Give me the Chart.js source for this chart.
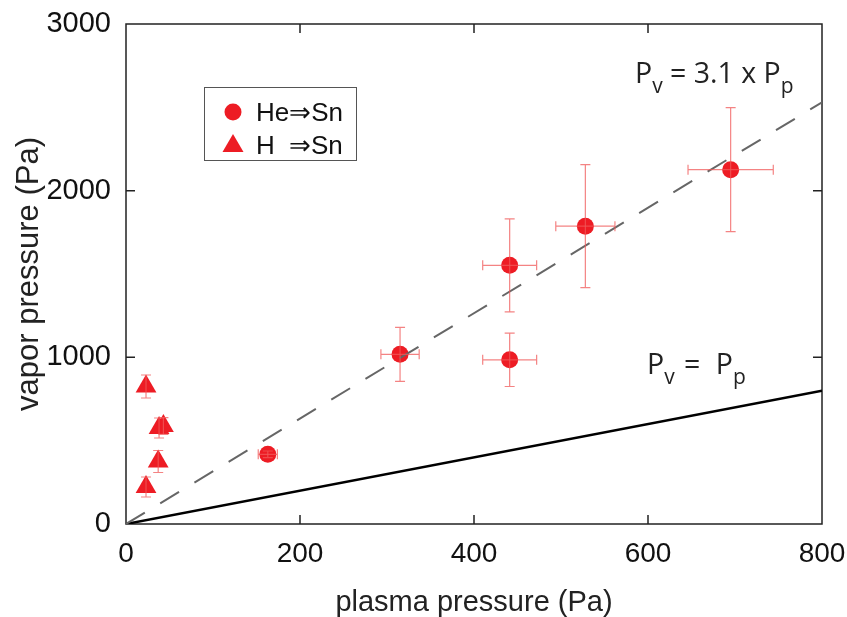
<!DOCTYPE html>
<html>
<head>
<meta charset="utf-8">
<script src="https://cdn.jsdelivr.net/npm/chart.js@4.4.0/dist/chart.umd.min.js"></script>
<style>
html, body { margin: 0; padding: 0; background: #fff; }
#wrap { width: 847px; height: 617px; }
</style>
</head>
<body>
<div id="wrap"><canvas id="c"></canvas></div>
<script>
// He => Sn (circles)
const heX = [163, 315, 441, 441, 528, 695];
const heY = [418, 1018, 985, 1552, 1787, 2126];
const heXErr = [11, 22, 31, 31, 34, 49];
const heYErr = [20, 162, 160, 279, 369, 372];

// H => Sn (triangles)
const hX = [23, 37, 38, 43, 23];
const hY = [825, 375, 576, 588, 222];
const hXErr = [0, 0, 0, 0, 0];
const hYErr = [69, 66, 60, 50, 60];

// reference lines
const lineX = [0, 800];
const fitY = [0, 2530];   // Pv = 3.1 x Pp (as drawn)
const unityY = [0, 800];  // Pv = Pp

const xTicks = [0, 200, 400, 600, 800];
const yTicks = [0, 1000, 2000, 3000];

const red = '#ED1C24';
const errColor = 'rgba(240, 90, 90, 0.75)';
const sansFont = "'Liberation Sans', Arial, sans-serif";
const annFont = "'Open Sans', 'Noto Sans', sans-serif";

const toPts = (xs, ys) => xs.map((x, i) => ({ x: x, y: ys[i] }));

const errorBars = {
    id: 'errorBars',
    afterDatasetsDraw(chart) {
        const { ctx, scales: { x, y } } = chart;
        const sets = [[heX, heY, heXErr, heYErr], [hX, hY, hXErr, hYErr]];
        ctx.save();
        ctx.strokeStyle = errColor;
        ctx.lineWidth = 1.2;
        const cap = 5;
        sets.forEach(([xs, ys, xe, ye]) => {
            xs.forEach((xv, i) => {
                const px = x.getPixelForValue(xv), py = y.getPixelForValue(ys[i]);
                if (ye[i] > 0) {
                    const t = y.getPixelForValue(ys[i] + ye[i]), b = y.getPixelForValue(ys[i] - ye[i]);
                    ctx.beginPath();
                    ctx.moveTo(px, t); ctx.lineTo(px, b);
                    ctx.moveTo(px - cap, t); ctx.lineTo(px + cap, t);
                    ctx.moveTo(px - cap, b); ctx.lineTo(px + cap, b);
                    ctx.stroke();
                }
                if (xe[i] > 0) {
                    const l = x.getPixelForValue(xv - xe[i]), r = x.getPixelForValue(xv + xe[i]);
                    ctx.beginPath();
                    ctx.moveTo(l, py); ctx.lineTo(r, py);
                    ctx.moveTo(l, py - cap); ctx.lineTo(l, py + cap);
                    ctx.moveTo(r, py - cap); ctx.lineTo(r, py + cap);
                    ctx.stroke();
                }
            });
        });
        ctx.restore();
    }
};

// frame with inward ticks on all four sides
const frame = {
    id: 'frame',
    beforeDatasetsDraw(chart) {
        const { ctx, chartArea: a, scales: { x, y } } = chart;
        ctx.save();
        ctx.strokeStyle = '#222';
        ctx.lineWidth = 1.5;
        ctx.strokeRect(a.left, a.top, a.right - a.left, a.bottom - a.top);
        ctx.beginPath();
        const len = 9;
        xTicks.slice(1, -1).forEach(v => {
            const px = x.getPixelForValue(v);
            ctx.moveTo(px, a.bottom); ctx.lineTo(px, a.bottom - len);
            ctx.moveTo(px, a.top); ctx.lineTo(px, a.top + len);
        });
        yTicks.slice(1, -1).forEach(v => {
            const py = y.getPixelForValue(v);
            ctx.moveTo(a.left, py); ctx.lineTo(a.left + len, py);
            ctx.moveTo(a.right, py); ctx.lineTo(a.right - len, py);
        });
        ctx.stroke();
        ctx.restore();
    }
};

function drawSubText(ctx, x, y, parts) {
    // parts: [text, isSub, gapBefore]
    let cx = x;
    parts.forEach(([t, sub, gap]) => {
        cx += gap || 0;
        ctx.font = sub ? `21px ${annFont}` : `28.5px ${annFont}`;
        ctx.fillText(t, cx, sub ? y + 10 : y);
        cx += ctx.measureText(t).width;
    });
}

const extras = {
    id: 'extras',
    afterDraw(chart) {
        const { ctx } = chart;
        ctx.save();
        ctx.fillStyle = '#222';
        ctx.textBaseline = 'alphabetic';
        drawSubText(ctx, 635, 83, [['P', false], ['v', true], [' = 3.1 x P', false], ['p', true]]);
        drawSubText(ctx, 647, 374, [['P', false], ['v', true], [' =', false, 2], [' P', false, 8], ['p', true]]);

        // legend
        ctx.strokeStyle = '#555';
        ctx.lineWidth = 1;
        ctx.strokeRect(204.5, 87.5, 152, 73);
        ctx.fillStyle = red;
        ctx.beginPath();
        ctx.arc(233, 112, 8.5, 0, Math.PI * 2);
        ctx.fill();
        ctx.beginPath();
        ctx.moveTo(233, 134); ctx.lineTo(243.5, 152); ctx.lineTo(222.5, 152);
        ctx.closePath();
        ctx.fill();
        ctx.fillStyle = '#111';
        ctx.font = `26px ${sansFont}`;
        ctx.fillText('He\u21D2Sn', 256, 121);
        ctx.fillText('H', 256, 154);
        ctx.fillText('\u21D2Sn', 289, 154);
        ctx.restore();
    }
};

new Chart(document.getElementById('c'), {
    type: 'scatter',
    data: {
        datasets: [
            {
                type: 'line', data: toPts(lineX, fitY),
                borderColor: '#666', borderWidth: 2, borderDash: [22, 18],
                pointRadius: 0, fill: false, order: 0
            },
            {
                type: 'line', data: toPts(lineX, unityY),
                borderColor: '#000', borderWidth: 2.5,
                pointRadius: 0, fill: false, order: 0
            },
            {
                label: 'He\u21D2Sn', data: toPts(heX, heY),
                pointStyle: 'circle', pointRadius: 8.5,
                backgroundColor: red, borderColor: red, borderWidth: 0, order: 1
            },
            {
                label: 'H \u21D2Sn', data: toPts(hX, hY),
                pointStyle: 'triangle', pointRadius: 12,
                backgroundColor: red, borderColor: red, borderWidth: 0, order: 1
            }
        ]
    },
    options: {
        responsive: true,
        maintainAspectRatio: false,
        animation: false,
        layout: { padding: { left: 0, top: 24, right: 25, bottom: 0 } },
        plugins: { legend: { display: false }, tooltip: { enabled: false } },
        scales: {
            x: {
                type: 'linear', min: 0, max: 800,
                afterFit: s => { s.height = 93; s.paddingLeft = 0; s.paddingRight = 0; },
                afterBuildTicks: s => { s.ticks = xTicks.map(v => ({ value: v })); },
                grid: { display: false },
                border: { display: false },
                ticks: { color: '#111', padding: 5, font: { family: sansFont, size: 28 }, callback: v => String(v) },
                title: {
                    display: true, text: 'plasma pressure (Pa)', color: '#222',
                    font: { family: sansFont, size: 29, lineHeight: 1 }, padding: { top: 0, bottom: 0 }
                }
            },
            y: {
                type: 'linear', min: 0, max: 3000,
                afterFit: s => { s.width = 126; s.paddingTop = 0; s.paddingBottom = 0; },
                afterBuildTicks: s => { s.ticks = yTicks.map(v => ({ value: v })); },
                grid: { display: false },
                border: { display: false },
                ticks: { color: '#111', padding: 7, font: { family: sansFont, size: 29 }, callback: v => String(v) },
                title: {
                    display: true, text: 'vapor pressure (Pa)', color: '#222',
                    font: { family: sansFont, size: 31, lineHeight: 1 }, padding: { top: 14, bottom: 0 }
                }
            }
        }
    },
    plugins: [frame, errorBars, extras]
});
</script>
</body>
</html>
